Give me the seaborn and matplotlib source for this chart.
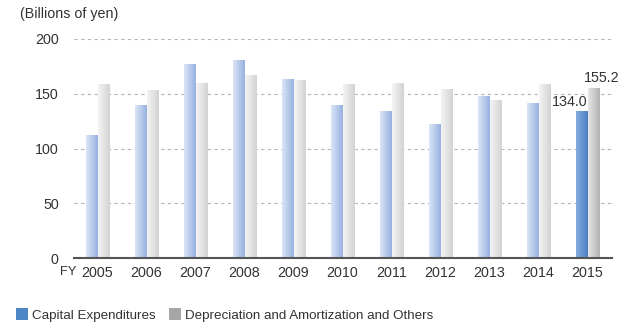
import numpy as np
import pandas as pd
import matplotlib
matplotlib.use("Agg")
import matplotlib.pyplot as plt
import seaborn as sns
from matplotlib.colors import LinearSegmentedColormap
from matplotlib.patches import Patch

years = ["2005", "2006", "2007", "2008", "2009", "2010", "2011", "2012", "2013", "2014", "2015"]
capex = [112.3, 139.7, 177.2, 180.8, 163.5, 139.7, 134.2, 122.4, 148.0, 141.6, 134.0]
depr = [158.9, 153.4, 159.8, 167.1, 162.6, 158.9, 159.8, 154.3, 144.3, 158.9, 155.2]
series_names = ["Capital Expenditures", "Depreciation and Amortization and Others"]
yticks = [0, 50, 100, 150, 200]

df = pd.DataFrame({
    "year": years * 2,
    "value": capex + depr,
    "series": [series_names[0]] * len(years) + [series_names[1]] * len(years),
})

sns.set_theme(style="white")
plt.rcParams["font.family"] = ["Liberation Sans", "DejaVu Sans"]

fig = plt.figure(figsize=(6.19, 3.29), dpi=100)
ax = fig.add_axes([74 / 619, 1 - 258 / 329, (612 - 74) / 619, (258 - 39) / 329])

sns.barplot(data=df, x="year", y="value", hue="series", order=years,
            hue_order=series_names, palette=["#a9bfe6", "#dcdcdc"],
            width=0.48, gap=0, dodge=True, legend=False, ax=ax,
            linewidth=0, saturation=1)

grads = {
    "blue": LinearSegmentedColormap.from_list("b", ["#dbe5f6", "#97b1e0"]),
    "blue_hl": LinearSegmentedColormap.from_list("bh", ["#86acdf", "#4b80c6"]),
    "gray": LinearSegmentedColormap.from_list("g", ["#f4f4f4", "#d3d3d3"]),
    "gray_hl": LinearSegmentedColormap.from_list("gh", ["#e6e6e6", "#b3b3b3"]),
}
grad = np.linspace(0, 1, 64).reshape(1, -1)
n = len(years)
patches = [p for p in ax.patches]
for i, p in enumerate(patches):
    s = i // n
    k = i % n
    last = (k == n - 1)
    key = ("blue" if s == 0 else "gray") + ("_hl" if last else "")
    x0, y0 = p.get_x(), p.get_y()
    w, h = p.get_width(), p.get_height()
    im = ax.imshow(grad, cmap=grads[key], aspect="auto",
                   extent=[x0, x0 + w, y0, y0 + h], zorder=p.get_zorder() + 0.1,
                   interpolation="bicubic")
    im.set_clip_path(p)

ax.set_xlim(-0.48, 10.5)
ax.set_ylim(0, 200)
ax.set_yticks(yticks)
ax.set_yticklabels([str(t) for t in yticks])
ax.set_xlabel("")
ax.set_ylabel("")
for spine in ["top", "right", "left"]:
    ax.spines[spine].set_visible(False)
ax.spines["bottom"].set_color("#555555")
ax.spines["bottom"].set_linewidth(1.5)
ax.spines["bottom"].set_zorder(5)
for t in yticks[1:]:
    ax.axhline(t, color="#b5b5b5", lw=0.8, ls=(0, (3, 3)), zorder=0)
ax.tick_params(axis="both", length=0, labelcolor="#333333")
ax.tick_params(axis="y", pad=11, labelsize=10.3)
ax.tick_params(axis="x", pad=6, labelsize=10.3)

# value labels for last year
lx = patches[n - 1].get_x() + patches[n - 1].get_width()
ax.text(lx, capex[-1] + 2.5, f"{capex[-1]:.1f}", ha="right", va="bottom",
        fontsize=10.3, color="#333333")
gp = patches[2 * n - 1]
ax.text(gp.get_x() - 0.07, depr[-1] + 2.5, f"{depr[-1]:.1f}", ha="left", va="bottom",
        fontsize=10.3, color="#333333", clip_on=False)

fig.text(20 / 619, 1 - 14 / 329, "(Billions of yen)", fontsize=10.3, color="#333333",
         ha="left", va="center")
fig.text(60 / 619, 1 - 272 / 329, "FY", fontsize=9.3, color="#333333",
         ha="left", va="center")

handles = [Patch(facecolor="#4f86c6", edgecolor="none"),
           Patch(facecolor="#a6a6a6", edgecolor="none")]
fig.legend(handles, series_names, loc="center left",
           bbox_to_anchor=(4 / 619, 1 - 315 / 329), ncol=2, frameon=False,
           fontsize=9.6, handlelength=0.9, handleheight=0.9, handletextpad=0.3,
           columnspacing=1.0, labelcolor="#333333")

fig.savefig("out.png", dpi=100)
